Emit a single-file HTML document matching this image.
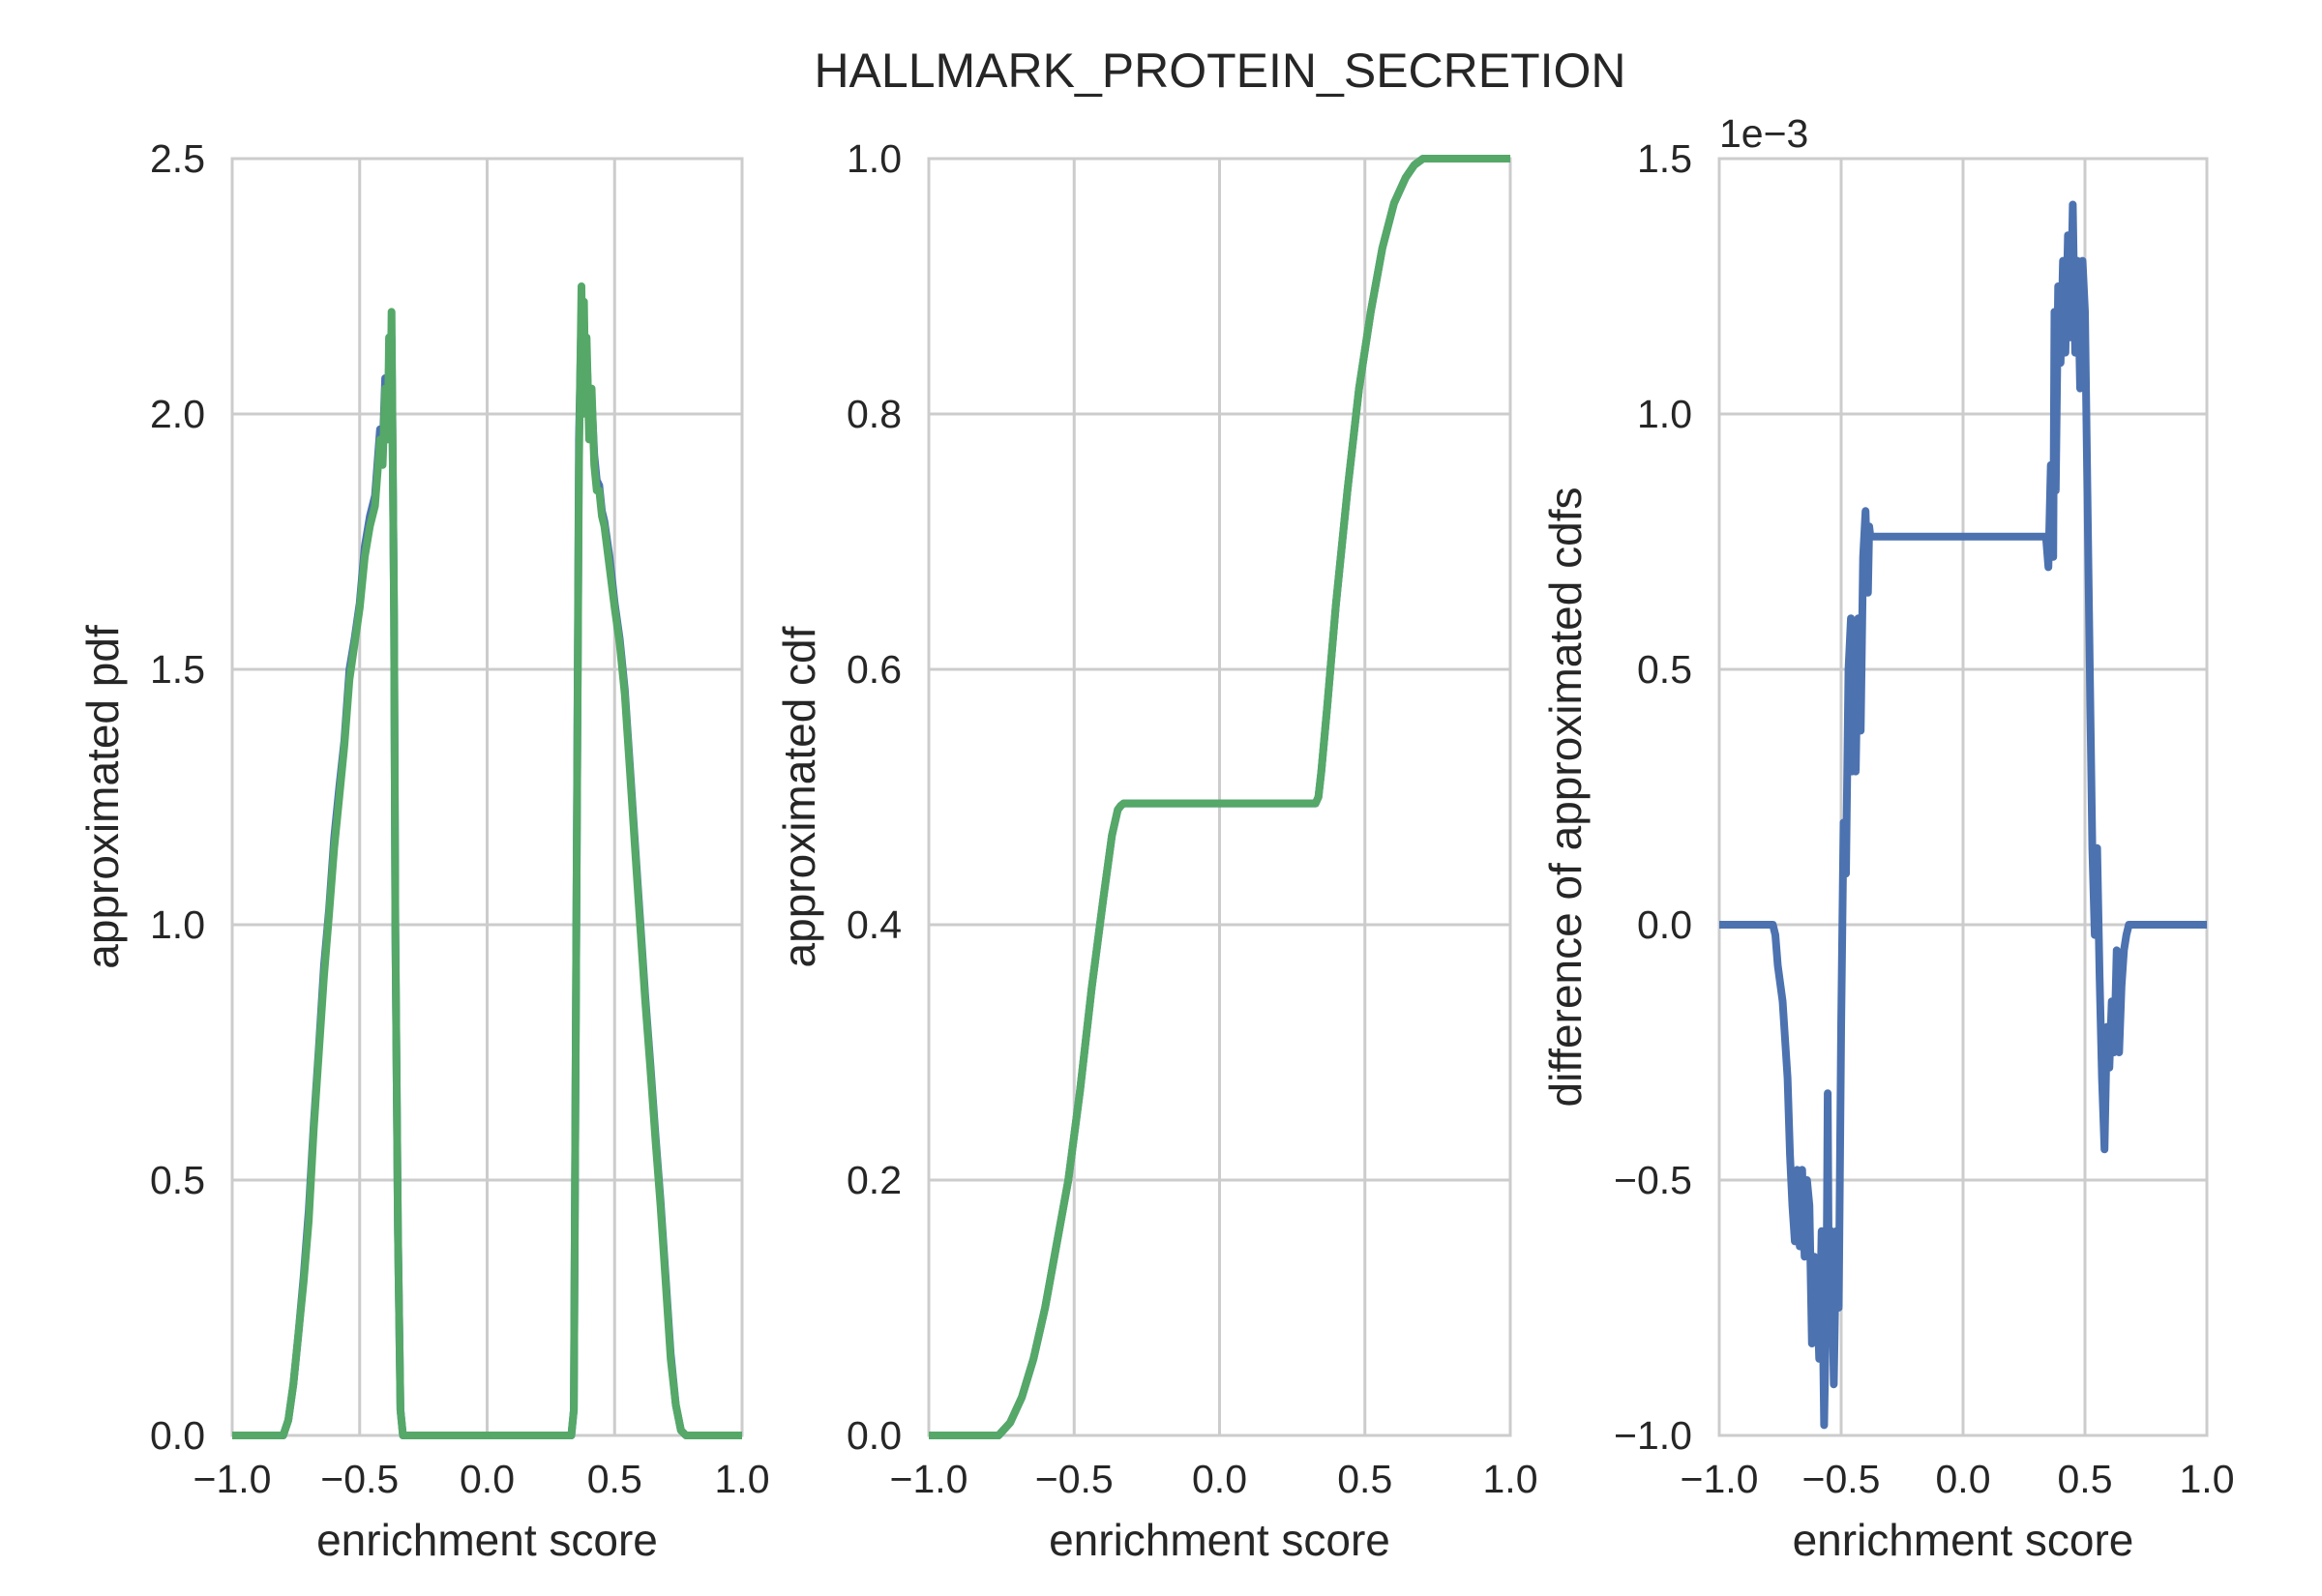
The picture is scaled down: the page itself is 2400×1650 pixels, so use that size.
<!DOCTYPE html>
<html><head><meta charset="utf-8"><style>
body{margin:0;background:#fff}
svg{display:block;font-family:"Liberation Sans",sans-serif}
</style></head><body>
<svg id="fig" width="2400" height="1650" viewBox="0 0 2400 1650">
<text x="1261" y="90" font-size="50" text-anchor="middle" fill="#262626">HALLMARK_PROTEIN_SECRETION</text>
</svg>
<script>
const xTicks=[-1.0,-0.5,0.0,0.5,1.0];
const pdfTicks=[0.0,0.5,1.0,1.5,2.0,2.5];
const cdfTicks=[0.0,0.2,0.4,0.6,0.8,1.0];
const diffTicks=[-1.0,-0.5,0.0,0.5,1.0,1.5];
const pdfX=[-1,-0.8,-0.78,-0.76,-0.74,-0.72,-0.70,-0.68,-0.66,-0.64,-0.62,-0.60,-0.58,-0.56,-0.54,-0.52,-0.50,-0.48,-0.46,-0.44,-0.42,-0.41,-0.40,-0.39,-0.385,-0.38,-0.375,-0.37,-0.365,-0.36,-0.35,-0.34,-0.33,0.33,0.34,0.35,0.36,0.37,0.375,0.38,0.385,0.39,0.40,0.41,0.42,0.43,0.44,0.45,0.46,0.48,0.50,0.52,0.54,0.56,0.58,0.60,0.62,0.64,0.66,0.68,0.70,0.72,0.74,0.76,0.78,1];
const pdfGreen=[0,0,0.03,0.1,0.2,0.3,0.42,0.6,0.75,0.9,1.02,1.15,1.25,1.35,1.48,1.55,1.62,1.72,1.78,1.82,1.95,1.9,2.05,1.95,2.15,1.95,2.2,1.9,1.6,1.0,0.4,0.05,0,0,0.05,1.0,1.9,2.25,2.0,2.22,2.05,2.15,1.95,2.05,1.9,1.85,1.85,1.8,1.78,1.7,1.62,1.55,1.45,1.3,1.15,1.0,0.85,0.72,0.58,0.45,0.3,0.15,0.06,0.01,0,0];
const pdfBlue=[0,0,0.03,0.1,0.2,0.31,0.44,0.61,0.76,0.92,1.03,1.17,1.27,1.36,1.5,1.56,1.63,1.74,1.8,1.84,1.97,1.93,2.07,1.98,2.1,2.0,2.15,1.9,1.6,1.0,0.4,0.05,0,0,0.05,1.0,1.95,2.2,2.05,2.18,2.08,2.12,1.98,2.03,1.92,1.87,1.86,1.81,1.79,1.72,1.63,1.56,1.46,1.31,1.16,1.01,0.86,0.73,0.59,0.46,0.31,0.16,0.06,0.01,0,0];
const cdfX=[-1,-0.76,-0.72,-0.68,-0.64,-0.60,-0.56,-0.52,-0.48,-0.44,-0.40,-0.37,-0.35,-0.34,-0.33,0.33,0.34,0.35,0.37,0.40,0.44,0.48,0.52,0.56,0.60,0.64,0.67,0.70,0.72,1];
const cdfGreen=[0,0,0.01,0.03,0.06,0.1,0.15,0.2,0.27,0.35,0.42,0.47,0.49,0.493,0.495,0.495,0.5,0.52,0.57,0.65,0.74,0.82,0.88,0.93,0.965,0.985,0.995,1,1,1];
const cdfBlue=[0,0,0.01,0.03,0.06,0.1,0.15,0.2,0.27,0.35,0.42,0.47,0.49,0.493,0.495,0.495,0.5,0.52,0.57,0.65,0.74,0.82,0.88,0.93,0.965,0.985,0.995,1,1,1];
const diffX=[-1,-0.80,-0.78,-0.77,-0.76,-0.74,-0.72,-0.71,-0.70,-0.69,-0.68,-0.67,-0.66,-0.65,-0.64,-0.63,-0.62,-0.61,-0.60,-0.59,-0.58,-0.57,-0.56,-0.555,-0.55,-0.54,-0.53,-0.52,-0.51,-0.50,-0.49,-0.48,-0.47,-0.46,-0.455,-0.45,-0.44,-0.43,-0.42,-0.41,-0.40,-0.39,-0.385,-0.38,-0.37,-0.35,0.34,0.35,0.36,0.37,0.375,0.38,0.39,0.40,0.41,0.42,0.43,0.44,0.45,0.46,0.47,0.48,0.49,0.50,0.51,0.52,0.53,0.54,0.55,0.56,0.57,0.58,0.59,0.60,0.61,0.62,0.63,0.64,0.65,0.66,0.67,0.68,0.70,0.75,1];
const diffVals=[0,0,0.0,-0.02,-0.08,-0.15,-0.3,-0.45,-0.55,-0.62,-0.48,-0.63,-0.48,-0.65,-0.5,-0.55,-0.82,-0.65,-0.7,-0.85,-0.6,-0.98,-0.7,-0.33,-0.75,-0.6,-0.9,-0.6,-0.75,-0.2,0.2,0.1,0.5,0.6,0.3,0.55,0.3,0.6,0.38,0.72,0.81,0.65,0.78,0.76,0.76,0.76,0.76,0.7,0.9,0.72,1.2,0.85,1.25,1.1,1.3,1.12,1.35,1.15,1.41,1.12,1.3,1.05,1.3,1.2,0.85,0.5,0.15,-0.02,0.15,-0.1,-0.3,-0.44,-0.2,-0.28,-0.15,-0.25,-0.05,-0.25,-0.12,-0.05,-0.02,0.0,0,0,0];
const NS='http://www.w3.org/2000/svg';
const svg=document.getElementById('fig');
function mk(t,a,p){const e=document.createElementNS(NS,t);for(const k in a)e.setAttribute(k,a[k]);(p||svg).appendChild(e);return e;}
function fmt(v){return (v<0?'\u2212':'')+Math.abs(v).toFixed(1);}
function panel(id,L,R,T,B,yTicks,yMin,yMax,ylabel,labelX,series){
  const g=mk('g',{});
  
  
  const sx=v=>L+(v+1)/2*(R-L);
  const sy=v=>B-(v-yMin)/(yMax-yMin)*(B-T);
  xTicks.forEach(t=>{
    const l=mk('line',{x1:sx(t),x2:sx(t),y1:T,y2:B,stroke:'#cccccc','stroke-width':3},g);
    
    
    const tx=mk('text',{x:sx(t),y:1543,'font-size':41,'text-anchor':'middle',fill:'#262626'},g);
    tx.textContent=fmt(t);
    
    
  });
  yTicks.forEach(t=>{
    const l=mk('line',{x1:L,x2:R,y1:sy(t),y2:sy(t),stroke:'#cccccc','stroke-width':3},g);
    
    
    const tx=mk('text',{x:L-28,y:sy(t)+14,'font-size':41,'text-anchor':'end',fill:'#262626'},g);
    tx.textContent=fmt(t);
    
    
  });
  const fr=mk('rect',{x:L,y:T,width:R-L,height:B-T,fill:'none',stroke:'#cccccc','stroke-width':3},g);
  
  
  series.forEach(s=>{
    const d=s.xs.map((x,i)=>(i?'L':'M')+sx(x).toFixed(1)+','+sy(s.ys[i]).toFixed(1)).join('');
    const p=mk('path',{d:d,fill:'none',stroke:s.c,'stroke-width':8,'stroke-linejoin':'round'},g);
    
    
  });
  const xl=mk('text',{x:(L+R)/2,y:1608,'font-size':46,'text-anchor':'middle',fill:'#262626'},g);
  xl.textContent='enrichment score';
  
  
  const yl=mk('text',{x:0,y:0,'font-size':46,'text-anchor':'middle',fill:'#262626',transform:'translate('+labelX+','+((T+B)/2)+') rotate(-90)'},g);
  yl.textContent=ylabel;
  
  
}
panel('pdf-panel',240,767,164,1484,pdfTicks,0,2.5,'approximated pdf',122,[
  {xs:pdfX,ys:pdfBlue,c:'#4c72b0',n:'pdf-line-blue'},{xs:pdfX,ys:pdfGreen,c:'#55a868',n:'pdf-line-green'}]);
panel('cdf-panel',960,1561,164,1484,cdfTicks,0,1.0,'approximated cdf',842,[
  {xs:cdfX,ys:cdfBlue,c:'#4c72b0',n:'cdf-line-blue'},{xs:cdfX,ys:cdfGreen,c:'#55a868',n:'cdf-line-green'}]);
panel('diff-panel',1777,2281,164,1484,diffTicks,-1.0,1.5,'difference of approximated cdfs',1634,[
  {xs:diffX,ys:diffVals,c:'#4c72b0',n:'diff-line'}]);
const off=mk('text',{x:1777,y:152,'font-size':41,fill:'#262626'});
off.textContent='1e\u22123';


</script>
</body></html>
